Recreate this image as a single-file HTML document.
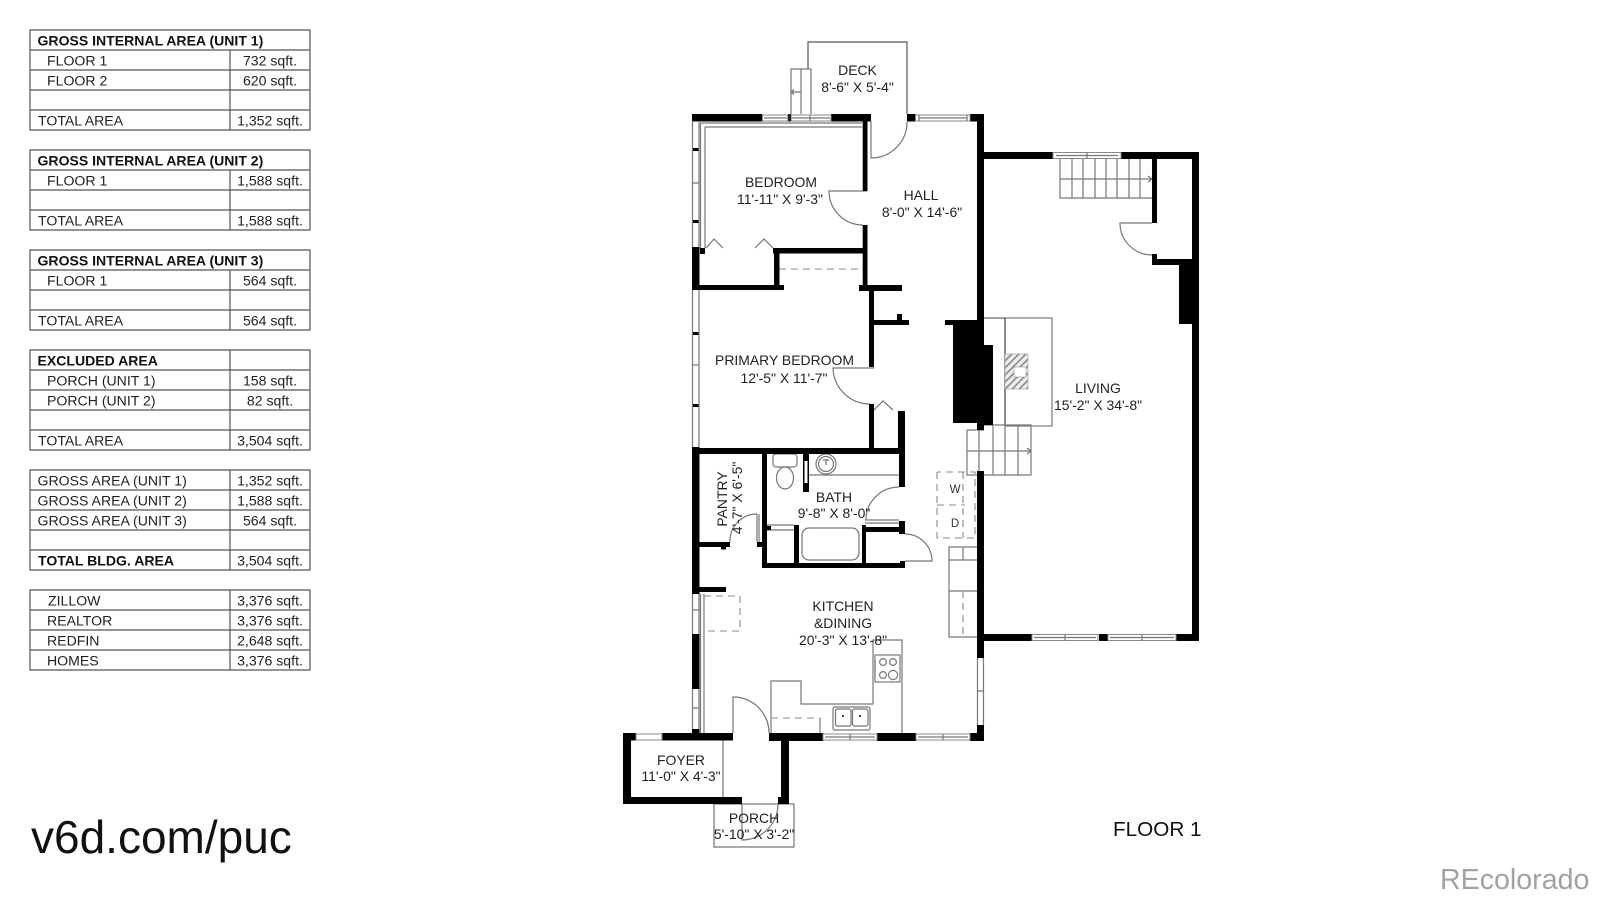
<!DOCTYPE html>
<html><head><meta charset="utf-8"><style>
html,body{margin:0;padding:0;background:#fff}
svg{display:block}
text{font-family:"Liberation Sans",sans-serif;fill:#222}
.t{font-size:14.1px}
.b{font-size:14.05px;font-weight:bold;fill:#111}
.v{text-anchor:middle}
.r{font-size:13.95px;text-anchor:middle;fill:#222}
.g{fill:none;stroke:#777;stroke-width:1.2}
.d{fill:none;stroke:#888;stroke-width:1.1;stroke-dasharray:7 5}
.w{fill:#fff;stroke:#888;stroke-width:1}
.tb{fill:none;stroke:#555;stroke-width:1.2}
</style></head><body>
<svg width="1600" height="899" viewBox="0 0 1600 899" xmlns="http://www.w3.org/2000/svg">
<rect width="1600" height="899" fill="#fff"/>

<!-- TABLES -->
<g class="tb">
<path d="M30 30H310V130H30ZM30 50H310M30 70H310M30 90H310M30 110H310M230 50V130"/>
<path d="M30 150H310V230H30ZM30 170H310M30 190H310M30 210H310M230 170V230"/>
<path d="M30 250H310V330H30ZM30 270H310M30 290H310M30 310H310M230 270V330"/>
<path d="M30 350H310V450H30ZM30 370H310M30 390H310M30 410H310M30 430H310M230 350V450"/>
<path d="M30 470H310V570H30ZM30 490H310M30 510H310M30 530H310M30 550H310M230 470V570"/>
<path d="M30 590H310V670H30ZM30 610H310M30 630H310M30 650H310M230 590V670"/>
</g>
<text class="b" x="37.5" y="45.5">GROSS INTERNAL AREA (UNIT 1)</text>
<text class="t" x="47" y="65.5">FLOOR 1</text><text class="t v" x="270" y="65.5">732 sqft.</text>
<text class="t" x="47" y="85.5">FLOOR 2</text><text class="t v" x="270" y="85.5">620 sqft.</text>
<text class="t" x="38" y="125.5">TOTAL AREA</text><text class="t v" x="270" y="125.5">1,352 sqft.</text>

<text class="b" x="37.5" y="165.5">GROSS INTERNAL AREA (UNIT 2)</text>
<text class="t" x="47" y="185.5">FLOOR 1</text><text class="t v" x="270" y="185.5">1,588 sqft.</text>
<text class="t" x="38" y="225.5">TOTAL AREA</text><text class="t v" x="270" y="225.5">1,588 sqft.</text>

<text class="b" x="37.5" y="265.5">GROSS INTERNAL AREA (UNIT 3)</text>
<text class="t" x="47" y="285.5">FLOOR 1</text><text class="t v" x="270" y="285.5">564 sqft.</text>
<text class="t" x="38" y="325.5">TOTAL AREA</text><text class="t v" x="270" y="325.5">564 sqft.</text>

<text class="b" x="37.5" y="365.5">EXCLUDED AREA</text>
<text class="t" x="47" y="385.5">PORCH (UNIT 1)</text><text class="t v" x="270" y="385.5">158 sqft.</text>
<text class="t" x="47" y="405.5">PORCH (UNIT 2)</text><text class="t v" x="270" y="405.5">82 sqft.</text>
<text class="t" x="38" y="445.5">TOTAL AREA</text><text class="t v" x="270" y="445.5">3,504 sqft.</text>

<text class="t" x="37.5" y="485.5">GROSS AREA (UNIT 1)</text><text class="t v" x="270" y="485.5">1,352 sqft.</text>
<text class="t" x="37.5" y="505.5">GROSS AREA (UNIT 2)</text><text class="t v" x="270" y="505.5">1,588 sqft.</text>
<text class="t" x="37.5" y="525.5">GROSS AREA (UNIT 3)</text><text class="t v" x="270" y="525.5">564 sqft.</text>
<text class="b" x="38" y="565.5">TOTAL BLDG. AREA</text><text class="t v" x="270" y="565.5">3,504 sqft.</text>

<text class="t" x="48" y="605.5">ZILLOW</text><text class="t v" x="270" y="605.5">3,376 sqft.</text>
<text class="t" x="47" y="625.5">REALTOR</text><text class="t v" x="270" y="625.5">3,376 sqft.</text>
<text class="t" x="47" y="645.5">REDFIN</text><text class="t v" x="270" y="645.5">2,648 sqft.</text>
<text class="t" x="47" y="665.5">HOMES</text><text class="t v" x="270" y="665.5">3,376 sqft.</text>

<text x="31" y="853" style="font-size:46px;fill:#111">v6d.com/puc</text>
<text x="1113" y="836" style="font-size:20.7px;fill:#111">FLOOR 1</text>
<text x="1440" y="889" style="font-size:28.6px;fill:#a2a2a2">REcolorado</text>

<!-- LIGHT FIXTURES AND LINES -->
<!-- deck -->
<path d="M808 69V42H907V114" fill="none" stroke="#555" stroke-width="1.2"/>
<path class="g" d="M791 114V69H808M811 69V114M791 69H811M801 69V114M801 92H791M794 89.5L791 92L794 94.5"/>
<!-- bedroom inner wall -->
<path class="g" d="M700.5 123H862M705 127H862M705 127V248M700.5 123V248"/>
<!-- chevrons -->
<path class="g" d="M706 248L714 239L723 248M755 248L764 239L773 248M874 410L883 401L893 410"/>
<path class="d" d="M779 269H862"/>
<!-- doors -->
<path class="g" d="M871 121V158A36 36 0 0 0 907 122M867 191H829A34 34 0 0 0 863 225M874 368H833A37 37 0 0 0 870 404"/>
<path class="g" d="M1152 223H1120A32 32 0 0 0 1152 255"/>
<path class="g" d="M866 520A33 33 0 0 1 899 487M865 520H899M865 523H899"/>
<path class="g" d="M905 534A27 27 0 0 1 932 561H905"/>
<path class="g" d="M757 514V542M759 514V542M757 514A27 27 0 0 0 730 542"/>
<path class="g" d="M733 733V697A36 36 0 0 1 769 733"/>
<path class="g" d="M742 804V840A36 36 0 0 0 778 804"/>

<!-- bath fixtures -->
<rect class="g" x="773" y="454" width="24" height="13" rx="3"/>
<ellipse class="g" cx="785" cy="478" rx="8.5" ry="11"/>
<circle class="g" cx="826" cy="464" r="10"/><circle class="g" cx="826" cy="464" r="7.5"/>
<path class="g" d="M826 459V465M823 460H829"/>
<path class="g" d="M809 475H899"/>
<rect class="g" x="802" y="528" width="57" height="32" rx="7"/>
<path class="g" d="M767 525H794M767 530H794"/>

<!-- washer/dryer -->
<path class="d" d="M937 472V538H975V472H937M963 472V538M937 505H965"/>
<text x="955" y="493" style="font-size:11.5px;text-anchor:middle;fill:#333">W</text>
<text x="955" y="527" style="font-size:11.5px;text-anchor:middle;fill:#333">D</text>

<!-- right cabinets -->
<path class="g" d="M977 547H949V637H977M949 560H977M949 591H977M963 547V560"/>
<path class="d" d="M963 591V637"/>

<!-- kitchen -->
<path class="g" d="M771 733V681H801V704H873V640H902V733"/>
<path class="d" d="M771 718H820"/><path class="g" d="M820 718V733"/>
<rect class="g" x="833" y="707" width="37" height="23" rx="2"/>
<rect class="g" x="835.5" y="709" width="15.5" height="17" rx="2"/><rect class="g" x="852.5" y="709" width="15.5" height="17" rx="2"/>
<circle cx="843" cy="716" r="1.1" fill="#333"/><circle cx="860" cy="716" r="1.1" fill="#333"/>
<rect class="g" x="875" y="655" width="25" height="27"/>
<path class="g" d="M875 660V672" stroke-width="2"/>
<circle class="g" cx="883" cy="662" r="3.4"/><circle class="g" cx="893" cy="662" r="3.4"/>
<circle class="g" cx="883" cy="675" r="3.4"/><circle class="g" cx="893" cy="675" r="4.6"/>
<path class="d" d="M704 596H740V631H704"/>
<path class="g" d="M700.5 594V733M704 594V733"/>

<!-- foyer divider, porch -->
<path d="M723 740V797" stroke="#666" stroke-width="1.1"/>
<rect x="714" y="804" width="80" height="43" fill="none" stroke="#666" stroke-width="1.1"/>

<!-- fireplace -->
<rect class="g" x="1005" y="318" width="47" height="108"/>
<path d="M984 318H1005V426" fill="none" stroke="#444" stroke-width="1.1"/>
<defs><pattern id="h" width="5" height="5" patternUnits="userSpaceOnUse" patternTransform="rotate(-45)"><rect width="5" height="5" fill="#eee"/><rect width="5" height="1.6" fill="#888"/></pattern></defs>
<rect x="1005" y="354" width="23" height="35" fill="url(#h)" stroke="#999" stroke-width=".6"/>
<rect x="1014" y="367" width="12" height="10" fill="#fff" stroke="#999" stroke-width=".6"/>

<!-- stairs -->
<path class="g" d="M1060 159V198H1152M1072 159V198M1083 159V198M1095 159V198M1106 159V198M1117 159V198M1129 159V198M1140 159V198M1060 179H1152M1148 176L1152 179L1148 182"/>
<path class="g" d="M967 430V475H1031V425H984M967 430H984M979 430V475M993 425V475M1005 425V475M1018 425V475M967 451H1031M1027 448L1031 451L1027 454"/>

<!-- WALLS -->
<g fill="#000">
<!-- top -->
<rect x="692" y="114" width="70" height="7.5"/><rect x="831" y="114" width="40" height="7.5"/>
<rect x="907" y="114" width="8.5" height="7.5"/><rect x="970" y="114" width="14" height="7.5"/>
<!-- left wall -->
<rect x="692" y="247" width="7.5" height="43"/><rect x="700" y="248" width="5" height="6"/>
<rect x="692" y="447" width="7.5" height="147"/><rect x="692" y="634" width="7.5" height="55"/><rect x="692" y="729" width="7.5" height="8"/>
<rect x="692" y="148" width="7.5" height="3"/><rect x="692" y="220" width="7.5" height="3"/>
<rect x="692" y="332" width="7.5" height="3"/><rect x="692" y="404" width="7.5" height="3"/>
<!-- bedroom -->
<rect x="862.7" y="121" width="4.8" height="70"/><rect x="862.7" y="225" width="4.8" height="63"/>
<rect x="773" y="248" width="90" height="5.5"/><rect x="774" y="248" width="5.5" height="40"/>
<rect x="692" y="285" width="92" height="5"/>
<!-- hall stubs -->
<rect x="859" y="285" width="43" height="6"/>
<rect x="869" y="291" width="5" height="76"/><rect x="869" y="320" width="40" height="5"/><rect x="897" y="314" width="5" height="6"/>
<rect x="869" y="404" width="5" height="44"/>
<rect x="898" y="411" width="7" height="37"/>
<!-- right hall wall + chimney -->
<rect x="977" y="114" width="7" height="316"/>
<rect x="945" y="320" width="39" height="5"/>
<rect x="953" y="320" width="31" height="103"/><rect x="977" y="345" width="16" height="80"/>
<rect x="977" y="471" width="7" height="187"/>
<rect x="977" y="725" width="7" height="16"/>
<!-- bath walls -->
<rect x="692" y="448" width="213" height="6"/>
<rect x="899" y="454" width="6" height="33"/>
<rect x="803" y="454" width="6" height="38"/>
<rect x="804.5" y="461" width="3" height="22" fill="#fff"/>
<rect x="762" y="454" width="5" height="114"/>
<rect x="767" y="526" width="4" height="4"/>
<rect x="794" y="525" width="5" height="40"/><rect x="862" y="525" width="4" height="40"/>
<rect x="862" y="527" width="43" height="5"/>
<rect x="899" y="521" width="6" height="13"/>
<rect x="762" y="563" width="143" height="5"/><rect x="900" y="561" width="5" height="7"/>
<!-- pantry -->
<rect x="699" y="542" width="31" height="5"/><rect x="721" y="547" width="5" height="2.5"/>
<rect x="757" y="542" width="6" height="5"/>
<rect x="692" y="587" width="34" height="5"/>
<!-- bottom -->
<rect x="623" y="733" width="13" height="7.5"/><rect x="662" y="733" width="71" height="7.5"/>
<rect x="769" y="733" width="54" height="8"/><rect x="877" y="733" width="39" height="8"/><rect x="970" y="733" width="14" height="8"/>
<rect x="623" y="733" width="8" height="71"/><rect x="623" y="797" width="119" height="7"/>
<rect x="781" y="740" width="8" height="64"/><rect x="778" y="797" width="11" height="7"/>
<!-- living -->
<rect x="984" y="152" width="69" height="7"/><rect x="1121" y="152" width="78" height="7"/>
<rect x="1192" y="152" width="7" height="489"/>
<rect x="1152" y="159" width="5" height="64"/><rect x="1152" y="254" width="5" height="11"/>
<rect x="1152" y="259" width="40" height="6"/><rect x="1179" y="265" width="13" height="59"/>
<rect x="984" y="634" width="48" height="7"/><rect x="1099" y="634" width="9" height="7"/><rect x="1176" y="634" width="23" height="7"/>
</g>

<!-- WINDOWS -->
<path class="w" d="M762.5 115H831V121H762.5Z"/><path class="g" d="M764 118H787M792 118H830M788 115V121M791 115V121M810 115V121"/><rect x="788" y="114" width="3" height="7.5" fill="#222"/>
<path class="w" d="M915.5 115H970V121H915.5Z"/><path class="g" d="M919 118H967M919 115V121M967 115V121"/>
<path class="g" d="M692.5 122V247M699 122V247M692.5 290V447M699 290V447M692.5 594V634M699 594V634M692.5 689V729M699 689V729"/>
<path class="g" d="M692 183H699M692 365H699M692 610H699M692 708H699"/>
<path class="w" d="M636 734H662V740H636Z"/>
<path class="w" d="M823 734H877V740H823Z"/><path class="g" d="M825 737H875M850 734V740"/>
<path class="w" d="M916 734H970V740H916Z"/><path class="g" d="M918 737H968M943 734V740"/>
<path class="g" d="M977.5 658V725M983.5 658V725M977.5 691H983.5"/>
<path class="w" d="M1053 152.5H1121V158.5H1053Z"/><path class="g" d="M1056 155.5H1118M1087 152.5V158.5"/>
<path class="w" d="M1032 634.5H1098V640.5H1032Z"/><path class="g" d="M1034 637.5H1096M1065 634.5V640.5"/>
<path class="w" d="M1108 634.5H1176V640.5H1108Z"/><path class="g" d="M1110 637.5H1174M1142 634.5V640.5"/>

<!-- ROOM LABELS -->
<text class="r" x="857.5" y="75">DECK</text><text class="r" x="857.5" y="92">8'-6" X 5'-4"</text>
<text class="r" x="781" y="187">BEDROOM</text><text class="r" x="780" y="204">11'-11" X 9'-3"</text>
<text class="r" x="921" y="200">HALL</text><text class="r" x="922" y="217">8'-0" X 14'-6"</text>
<text class="r" x="784.5" y="365">PRIMARY BEDROOM</text><text class="r" x="784" y="383">12'-5" X 11'-7"</text>
<text class="r" x="834" y="502">BATH</text><text class="r" x="834" y="518">9'-8" X 8'-0"</text>
<text class="r" transform="translate(727 499) rotate(-90)">PANTRY</text>
<text class="r" transform="translate(742 498) rotate(-90)">4'-7" X 6'-5"</text>
<text class="r" x="843" y="611">KITCHEN</text><text class="r" x="843" y="628">&amp;DINING</text><text class="r" x="843" y="645">20'-3" X 13'-8"</text>
<text class="r" x="681" y="765">FOYER</text><text class="r" x="681" y="781">11'-0" X 4'-3"</text>
<text class="r" x="754" y="823">PORCH</text><text class="r" x="754" y="839">5'-10" X 3'-2"</text>
<text class="r" x="1098" y="393">LIVING</text><text class="r" x="1098" y="410">15'-2" X 34'-8"</text>
</svg>
</body></html>
